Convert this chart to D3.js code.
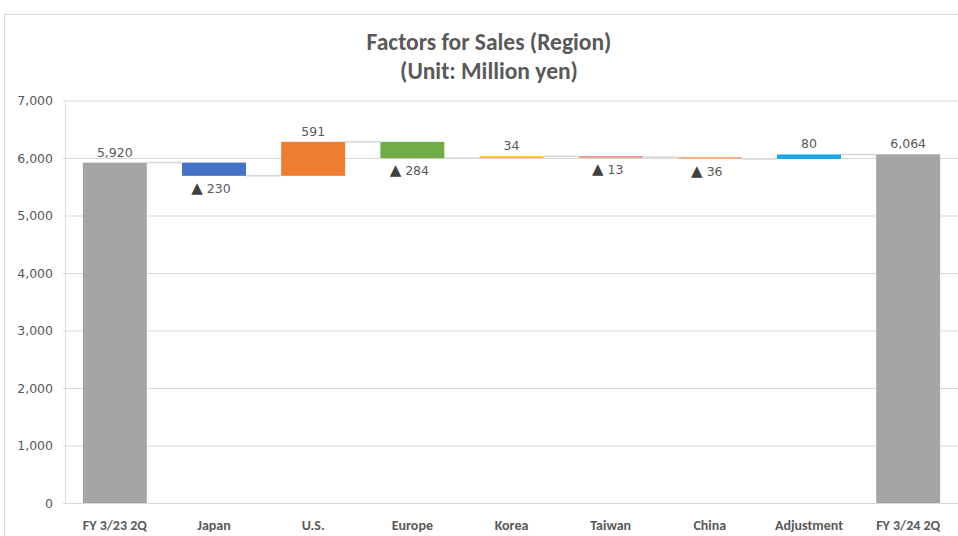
<!DOCTYPE html>
<html><head><meta charset="utf-8">
<script src="https://cdn.jsdelivr.net/npm/d3@7"></script>
<style>
html,body{margin:0;padding:0;background:#fff;}
svg{display:block;}
</style></head>
<body><svg id="c" width="958" height="536"></svg>
<script>
const categories = ["FY 3/23 2Q","Japan","U.S.","Europe","Korea","Taiwan","China","Adjustment","FY 3/24 2Q"];
const values = [5920, -230, 591, -284, 34, -13, -36, 80, 6064];
const kinds = ["total","delta","delta","delta","delta","delta","delta","delta","total"];
const colors = ["#A5A5A5","#4472C4","#ED7D31","#70AD47","#FFC000","#E8836B","#F4B183","#1AA7E6","#A5A5A5"];
const yTicks = [0,1000,2000,3000,4000,5000,6000,7000];
const titleLines = ["Factors for Sales (Region)","(Unit: Million yen)"];

const svg = d3.select("#c");
const M = {left:65, right:958, top:100.5, bottom:503};
const x = d3.scaleBand().domain(categories).range([M.left, M.right]).paddingInner(0.355).paddingOuter(0.18);
const y = d3.scaleLinear().domain([0,7000]).range([M.bottom, M.top]);

// chart border
svg.append("rect").attr("x",4.5).attr("y",14.5).attr("width",1000).attr("height",600)
  .attr("fill","none").attr("stroke","#d9d9d9");

// title
const title = svg.append("text").attr("text-anchor","middle").attr("fill","#595959")
  .style("font-family","Carlito,'Liberation Sans Narrow','Open Sans',sans-serif").style("font-size","23.5px").style("font-weight","bold");
titleLines.forEach((t,i)=>title.append("tspan").attr("x",489).attr("y",50+i*29).text(t));

// gridlines
const yAxis = d3.axisLeft(y).tickValues(yTicks).tickFormat(d3.format(",")).tickSize(-(M.right-M.left+5)).tickPadding(12);
const gy = svg.append("g").attr("transform",`translate(${M.left},0)`).call(yAxis);
gy.select(".domain").remove();
gy.selectAll(".tick line").attr("x1",-2).attr("stroke","#d9d9d9").attr("stroke-width",1);
gy.selectAll(".tick text").attr("fill","#595959").style("font-family","'DejaVu Sans',sans-serif").style("font-size","12.5px");
svg.append("line").attr("x1",M.left+0.5).attr("x2",M.left+0.5).attr("y1",y(7000)).attr("y2",y(0))
  .attr("stroke","#d9d9d9");

// x axis labels
const xAxis = d3.axisBottom(x).tickSize(0).tickPadding(17);
const gx = svg.append("g").attr("transform",`translate(0,${M.bottom})`).call(xAxis);
gx.select(".domain").remove();
gx.selectAll(".tick text").attr("fill","#595959").style("font-family","Carlito,'Liberation Sans Narrow','Open Sans',sans-serif").style("font-size","14px").style("font-weight","bold");

// compute waterfall
let run = 0;
const bars = categories.map((c,i)=>{
  let y0,y1;
  if(kinds[i]==="total"){ y0=0; y1=values[i]; run=values[i]; }
  else { y0=run; y1=run+values[i]; run=y1; }
  return {c, v:values[i], kind:kinds[i], y0, y1, end:y1, color:colors[i]};
});

// connectors
for(let i=0;i<bars.length-1;i++){
  const lvl = bars[i].end;
  svg.append("line")
    .attr("x1", x(bars[i].c)+x.bandwidth()).attr("x2", x(bars[i+1].c))
    .attr("y1", y(lvl)).attr("y2", y(lvl))
    .attr("stroke","#d6d6d6").attr("stroke-width",1.5);
}

// bars
svg.append("g").selectAll("rect").data(bars).join("rect")
  .attr("x", d=>x(d.c)).attr("width", x.bandwidth())
  .attr("y", d=>y(Math.max(d.y0,d.y1)))
  .attr("height", d=>Math.max(1.5, Math.abs(y(d.y0)-y(d.y1))))
  .attr("fill", d=>d.color);

// labels
const lab = svg.append("g").selectAll("text").data(bars).join("text")
  .attr("x", d=>x(d.c)+x.bandwidth()/2 + (d.v<0?-3:0))
  .attr("y", d=> d.v<0 ? y(Math.min(d.y0,d.y1))+17 : y(Math.max(d.y0,d.y1))-6)
  .attr("text-anchor","middle").attr("fill","#595959")
  .style("font-family","'DejaVu Sans',sans-serif").style("font-size","12.5px");
lab.each(function(d){
  const t = d3.select(this);
  if(d.v<0){
    t.append("tspan").style("font-size","15px").attr("fill","#404040").text("▲");
    t.append("tspan").text(" "+d3.format(",")(-d.v));
  } else t.text(d3.format(",")(d.v));
});
</script></body></html>
